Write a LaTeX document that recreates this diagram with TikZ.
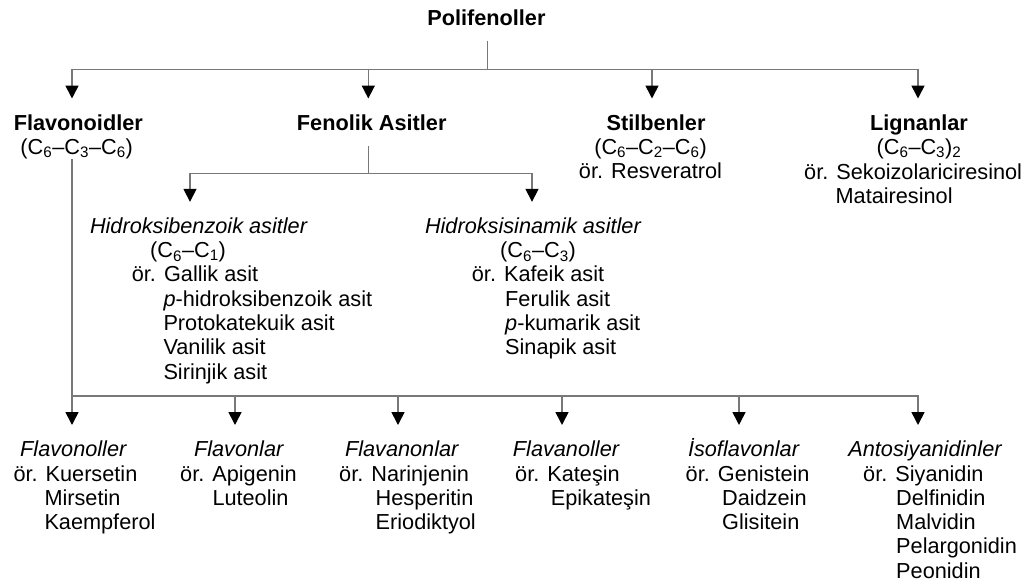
\documentclass[tikz,border=0pt]{standalone}
\usepackage{fontspec}
\setmainfont{Liberation Sans}
\usetikzlibrary{arrows.meta}
\definecolor{linegray}{RGB}{120,120,120}
\newcommand\ind[1]{\hspace*{#1pt}}
\newcommand\cidx[1]{\textsubscript{#1}}
\newcommand\txtfont{\fontsize{21.7pt}{24.3pt}\selectfont}
\begin{document}
\begin{tikzpicture}[x=1pt,y=-1pt,
  every node/.style={inner sep=0pt, font=\txtfont, text=black},
  headbold/.style={font=\txtfont\bfseries, text height=16pt, text depth=0pt, outer ysep=15.5pt, outer xsep=0pt},
  headital/.style={font=\txtfont\itshape, text height=16pt, text depth=0pt, outer ysep=15.5pt, outer xsep=0pt},
  % multi-line lists: the base anchor sits on the baseline of the last line
  body/.style={align=left, anchor=base west},
  link/.style={draw=linegray, line width=1.6pt},
  arrow/.style={link, -{Triangle[width=13pt,length=13pt,color=black,fill=black]}}
]
\useasboundingbox (0,0) rectangle (1033,587);

% ---- top level ----
\node[headbold, anchor=base] (root) at (486.4,25) {Polifenoller};

\node[headbold, anchor=base] (flav) at (78.3,130) {Flavonoidler};
\node[anchor=base] (flavf) at (76.7,154.5) {(C\cidx{6}–C\cidx{3}–C\cidx{6})};

\node[headbold, anchor=base] (fen) at (371.7,130) {Fenolik Asitler};

\node[headbold, anchor=base] (stil) at (656,130) {Stilbenler};
\node[anchor=base, align=center] (stilb) at (650.5,178.8) {(C\cidx{6}–C\cidx{2}–C\cidx{6})\\ör. Resveratrol};

\node[headbold, anchor=base] (lign) at (919,130) {Lignanlar};
\node[anchor=base] (lignf) at (919,154.5) {(C\cidx{6}–C\cidx{3})\cidx{2}};
\node[body] (lignb) at (804,203.3) {ör. Sekoizolariciresinol\\\ind{31.4}Matairesinol};

% ---- phenolic acids ----
\node[headital, anchor=base west] (hb) at (90,233.3) {Hidroksibenzoik asitler};
\node[body] (hbb) at (131.7,379.1) {\ind{18.3}(C\cidx{6}–C\cidx{1})\\ör. Gallik asit\\\ind{31.6}\textit{p}-hidroksibenzoik asit\\\ind{31.6}Protokatekuik asit\\\ind{31.6}Vanilik asit\\\ind{31.6}Sirinjik asit};

\node[headital, anchor=base west] (hs) at (425,233.3) {Hidroksisinamik asitler};
\node[body] (hsb) at (471.7,354.8) {\ind{28.3}(C\cidx{6}–C\cidx{3})\\ör. Kafeik asit\\\ind{33.3}Ferulik asit\\\ind{33.3}\textit{p}-kumarik asit\\\ind{33.3}Sinapik asit};

% ---- flavonoid subclasses ----
\node[headital, anchor=base] (fo) at (73.3,456.5) {Flavonoller};
\node[body] (fob) at (13.3,529.6) {ör. Kuersetin\\\ind{31}Mirsetin\\\ind{31}Kaempferol};

\node[headital, anchor=base] (fn) at (238.7,456.5) {Flavonlar};
\node[body] (fnb) at (180,505.3) {ör. Apigenin\\\ind{32.3}Luteolin};

\node[headital, anchor=base] (fa) at (401.7,456.5) {Flavanonlar};
\node[body] (fab) at (339,529.6) {ör. Narinjenin\\\ind{36.5}Hesperitin\\\ind{36.5}Eriodiktyol};

\node[headital, anchor=base] (fl) at (566,456.5) {Flavanoller};
\node[body] (flb) at (515,505.3) {ör. Kateşin\\\ind{35.6}Epikateşin};

\node[headital, anchor=base] (iso) at (743.5,456.5) {İsoflavonlar};
\node[body] (isob) at (685.5,529.6) {ör. Genistein\\\ind{36.5}Daidzein\\\ind{36.5}Glisitein};

\node[headital, anchor=base] (ant) at (925,456.5) {Antosiyanidinler};
\node[body] (antb) at (863,578.2) {ör. Siyanidin\\\ind{33}Delfinidin\\\ind{33}Malvidin\\\ind{33}Pelargonidin\\\ind{33}Peonidin};

% ---- junction points on the distribution bars ----
\coordinate (jr) at (487.3,69.3);
\coordinate (t1) at (72,69.3);
\coordinate (t2) at (368.3,69.3);
\coordinate (t3) at (652,69.3);
\coordinate (t4) at (918,69.3);
\coordinate (jf) at (368.3,173.3);
\coordinate (m1) at (190,173.3);
\coordinate (m2) at (532,173.3);
\coordinate (b1) at (72,396);
\coordinate (b2) at (235,396);
\coordinate (b3) at (398,396);
\coordinate (b4) at (562,396);
\coordinate (b5) at (739,396);
\coordinate (b6) at (918,396);

% ---- connectors ----
\draw[link] (root.south -| jr) -- (jr);
\draw[link, line cap=rect] (t1) -- (t4);
\foreach \j/\n in {t1/flav, t2/fen, t3/stil, t4/lign}
  \draw[arrow] (\j) -- (\j |- \n.north);

\draw[link] (fen.south -| jf) -- (jf);
\draw[link, line cap=rect] (m1) -- (m2);
\draw[arrow] (m1) -- (m1 |- hb.north);
\draw[arrow] (m2) -- (m2 |- hs.north);

\draw[link] (flavf.south -| b1) -- (b1);
\draw[link, line cap=rect] (b1) -- (b6);
\foreach \j/\n in {b1/fo, b2/fn, b3/fa, b4/fl, b5/iso, b6/ant}
  \draw[arrow] (\j) -- (\j |- \n.north);
\end{tikzpicture}
\end{document}
